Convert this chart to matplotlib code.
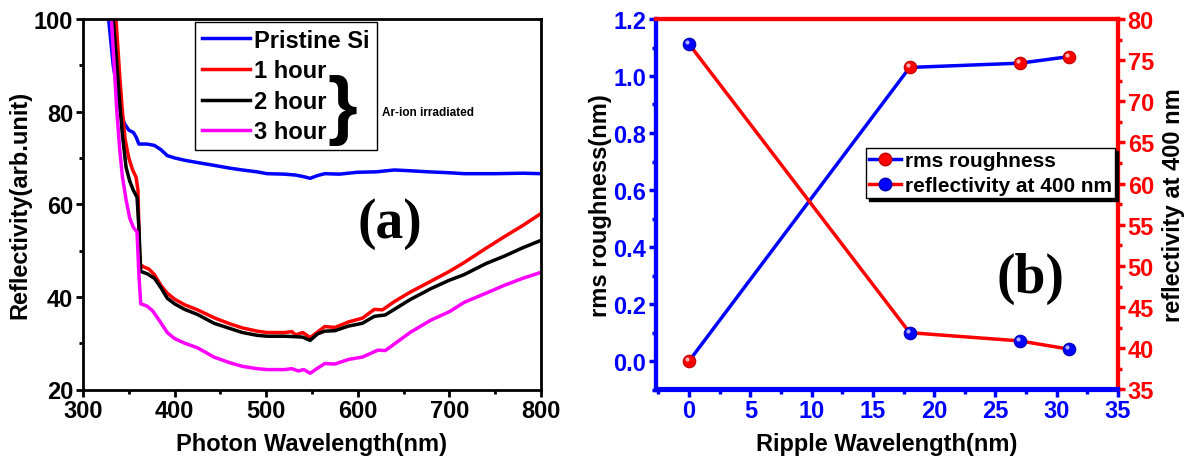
import numpy as np
import matplotlib
matplotlib.use('Agg')
import matplotlib.pyplot as plt
import matplotlib.transforms as mtransforms
from matplotlib.lines import Line2D
from matplotlib.ticker import MultipleLocator

plt.rcParams['font.family'] = ['Liberation Sans', 'DejaVu Sans']
plt.rcParams['font.weight'] = 'bold'

# ---- panel (a) data: reflectivity spectra ----
wl_pristine = [328, 333, 338, 341, 345, 350, 355, 358, 361, 370, 378, 385, 392, 400, 411, 425, 443, 460,
               474, 490, 501, 520, 532, 540, 548, 556, 564, 580, 599, 620, 630, 640, 660, 677, 700, 716,
               750, 780, 800]
r_pristine = [100, 90, 84, 80, 77.5, 76, 75.5, 74.5, 73, 73, 72.7, 71.8, 70.5, 70, 69.5, 69, 68.4, 67.8,
              67.4, 67, 66.6, 66.5, 66.3, 66.0, 65.6, 66.2, 66.6, 66.5, 66.9, 67, 67.2, 67.4, 67.2, 67.0,
              66.8, 66.6, 66.6, 66.7, 66.6]

wl_1h = [336, 340, 343, 346, 350, 354, 358, 360, 362, 366, 372, 378, 385, 392, 400, 411, 425, 443, 460,
         474, 490, 501, 520, 528, 532, 540, 548, 556, 564, 575, 590, 605, 618, 627, 640, 657, 680, 700,
         716, 740, 760, 780, 800]
r_1h = [100, 88, 80, 74, 70, 67.5, 65.8, 63, 47, 46.5, 46, 44.8, 42.5, 40.8, 39.5, 38.3, 37.2, 35.5, 34.2,
        33.3, 32.6, 32.3, 32.3, 32.5, 31.8, 32.3, 31.2, 32.4, 33.6, 33.4, 34.6, 35.4, 37.3, 37.2, 39, 41,
        43.4, 45.5, 47.4, 50.5, 53, 55.4, 58]

wl_2h = [333, 337, 340, 343, 347, 351, 355, 359, 361, 363, 370, 378, 385, 392, 400, 411, 425, 443, 460,
         474, 490, 501, 520, 532, 540, 548, 556, 564, 575, 590, 605, 618, 630, 657, 680, 700, 716, 740,
         760, 780, 800]
r_2h = [100, 90, 82, 75, 68, 65, 63, 61.5, 55, 45.5, 45, 44, 42, 39.7, 38.5, 37.3, 36.2, 34.3, 33.2,
        32.3, 31.7, 31.5, 31.5, 31.4, 31.3, 30.6, 32, 32.6, 32.7, 33.7, 34.3, 35.8, 36.1, 39.4, 41.8,
        43.6, 44.8, 47.2, 48.8, 50.6, 52.2]

wl_3h = [331, 334, 337, 340, 343, 347, 351, 355, 359, 361, 363, 370, 376, 383, 392, 400, 411, 425, 443,
         460, 474, 490, 501, 520, 528, 535, 541, 548, 556, 564, 575, 590, 605, 622, 630, 657, 680, 700,
         716, 740, 760, 780, 800]
r_3h = [100, 90, 80, 72, 66, 61, 57, 55, 54, 45, 38.5, 38, 37, 35, 32.3, 31, 30, 29, 27, 25.8, 25, 24.5,
        24.3, 24.3, 24.5, 24, 24.3, 23.5, 24.6, 25.6, 25.5, 26.5, 27, 28.5, 28.4, 32.3, 35, 36.8, 38.8,
        40.8, 42.5, 44, 45.3]

# ---- panel (b) data ----
ripple = [0, 18, 27, 31]
rms = [0.0, 1.03, 1.045, 1.068]
refl400 = [76.95, 41.9, 40.9, 39.9]

fig = plt.figure(figsize=(11.94, 4.64), dpi=100)
W, H = 1194, 464

# ================= panel (a) =================
axa = fig.add_axes([83/W, 1-390.5/H, (541-83)/W, (390.5-20)/H])
axa.plot(wl_pristine, r_pristine, color='#0000ff', lw=2.5, label='Pristine Si')
axa.plot(wl_1h, r_1h, color='#ff0000', lw=2.5, label='1 hour')
axa.plot(wl_2h, r_2h, color='black', lw=2.5, label='2 hour')
axa.plot(wl_3h, r_3h, color='#ff00ff', lw=2.5, label='3 hour')
axa.set_xlim(300, 800)
axa.set_ylim(20, 100)
axa.xaxis.set_major_locator(MultipleLocator(100))
axa.xaxis.set_minor_locator(MultipleLocator(50))
axa.yaxis.set_major_locator(MultipleLocator(20))
axa.yaxis.set_minor_locator(MultipleLocator(10))
for s in axa.spines.values():
    s.set_linewidth(2.0)
axa.tick_params(which='major', direction='out', length=5, width=2, labelsize=17, pad=2)
axa.tick_params(which='minor', direction='out', length=3, width=2)
axa.set_xlabel('Photon Wavelength(nm)', fontsize=17, fontweight='bold', labelpad=7)
axa.set_ylabel('Reflectivity(arb.unit)', fontsize=17, fontweight='bold', labelpad=2)
leg = axa.legend(loc='upper left', bbox_to_anchor=(0.245, 0.993), fontsize=17, frameon=True,
                 fancybox=False, edgecolor='black', framealpha=1, handlelength=2.0,
                 handletextpad=0.2, labelspacing=0.32, borderpad=0.3, borderaxespad=0)
leg.get_frame().set_linewidth(1.0)
for t in leg.get_texts():
    t.set_fontweight('bold')
axa.text(0.566, 0.755, '}', transform=axa.transAxes, fontsize=55, fontweight='bold',
         ha='center', va='center', zorder=10)
axa.text(0.652, 0.748, 'Ar-ion irradiated', transform=axa.transAxes, fontsize=8.5,
         fontweight='bold', ha='left', va='center', zorder=10)
axa.text(0.67, 0.45, '(a)', transform=axa.transAxes, fontsize=40, fontweight='bold',
         family='Liberation Serif', ha='center', va='center')

# ================= panel (b) =================
blue, red = '#0000ff', '#ff0000'
axb = fig.add_axes([656/W, 1-390.5/H, (1118-656)/W, (390.5-20)/H])
ax2 = axb.twinx()

hi_b = mtransforms.offset_copy(axb.transData, fig=fig, x=-1.5, y=1.5, units='points')
hi_2 = mtransforms.offset_copy(ax2.transData, fig=fig, x=-1.5, y=1.5, units='points')

axb.plot(ripple, rms, color=blue, lw=2.5, marker='o', ms=9, mfc=red, mec='#c00000', mew=0.8)
axb.plot(ripple, rms, ls='none', marker='o', ms=3, mfc='#ffb0b0', mec='none', transform=hi_b)
ax2.plot(ripple, refl400, color=red, lw=2.5, marker='o', ms=9, mfc=blue, mec='#0000b0', mew=0.8)
ax2.plot(ripple, refl400, ls='none', marker='o', ms=3, mfc='#b0b0ff', mec='none', transform=hi_2)

axb.set_xlim(-2.7, 35)
axb.set_ylim(-0.1, 1.2)
ax2.set_ylim(35, 80)
axb.xaxis.set_major_locator(MultipleLocator(5))
axb.xaxis.set_minor_locator(MultipleLocator(2.5))
axb.yaxis.set_major_locator(MultipleLocator(0.2))
axb.yaxis.set_minor_locator(MultipleLocator(0.1))
ax2.yaxis.set_major_locator(MultipleLocator(5))
ax2.yaxis.set_minor_locator(MultipleLocator(2.5))
axb.yaxis.set_major_formatter(matplotlib.ticker.FormatStrFormatter('%.1f'))

for a in (axb, ax2):
    a.spines['left'].set_color(blue)
    a.spines['bottom'].set_color(blue)
    a.spines['top'].set_color(red)
    a.spines['right'].set_color(red)
    for s in a.spines.values():
        s.set_linewidth(3.0)

axb.tick_params(which='major', direction='out', length=5, width=2.5, colors=blue, labelsize=17, pad=2)
axb.tick_params(which='minor', direction='out', length=3, width=2.5, colors=blue)
ax2.tick_params(which='major', direction='out', length=5, width=2.5, colors=red, labelsize=17, pad=2)
ax2.tick_params(which='minor', direction='out', length=3, width=2.5, colors=red)

axb.set_xlabel('Ripple Wavelength(nm)', fontsize=17, fontweight='bold', labelpad=7)
axb.set_ylabel('rms roughness(nm)', fontsize=17, fontweight='bold', labelpad=1)
ax2.set_ylabel('reflectivity at 400 nm', fontsize=17, fontweight='bold', labelpad=6)

handles = [Line2D([], [], color=blue, lw=2.5, marker='o', ms=9, mfc=red, mec='#c00000'),
           Line2D([], [], color=red, lw=2.5, marker='o', ms=9, mfc=blue, mec='#0000b0')]
legb = ax2.legend(handles, ['rms roughness', 'reflectivity at 400 nm'], loc='upper left',
                  bbox_to_anchor=(0.455, 0.652), fontsize=15, frameon=True, fancybox=False,
                  edgecolor='black', framealpha=1, handlelength=1.5, handletextpad=0.2,
                  labelspacing=0.3, borderpad=0.15, borderaxespad=0, numpoints=1,
                  shadow={'color': 'black', 'alpha': 1})
legb.get_frame().set_linewidth(1.0)
for t in legb.get_texts():
    t.set_fontweight('bold')
axb.text(0.81, 0.30, '(b)', transform=axb.transAxes, fontsize=40, fontweight='bold',
         family='Liberation Serif', ha='center', va='center', zorder=5)

fig.savefig('out.png', dpi=100)
